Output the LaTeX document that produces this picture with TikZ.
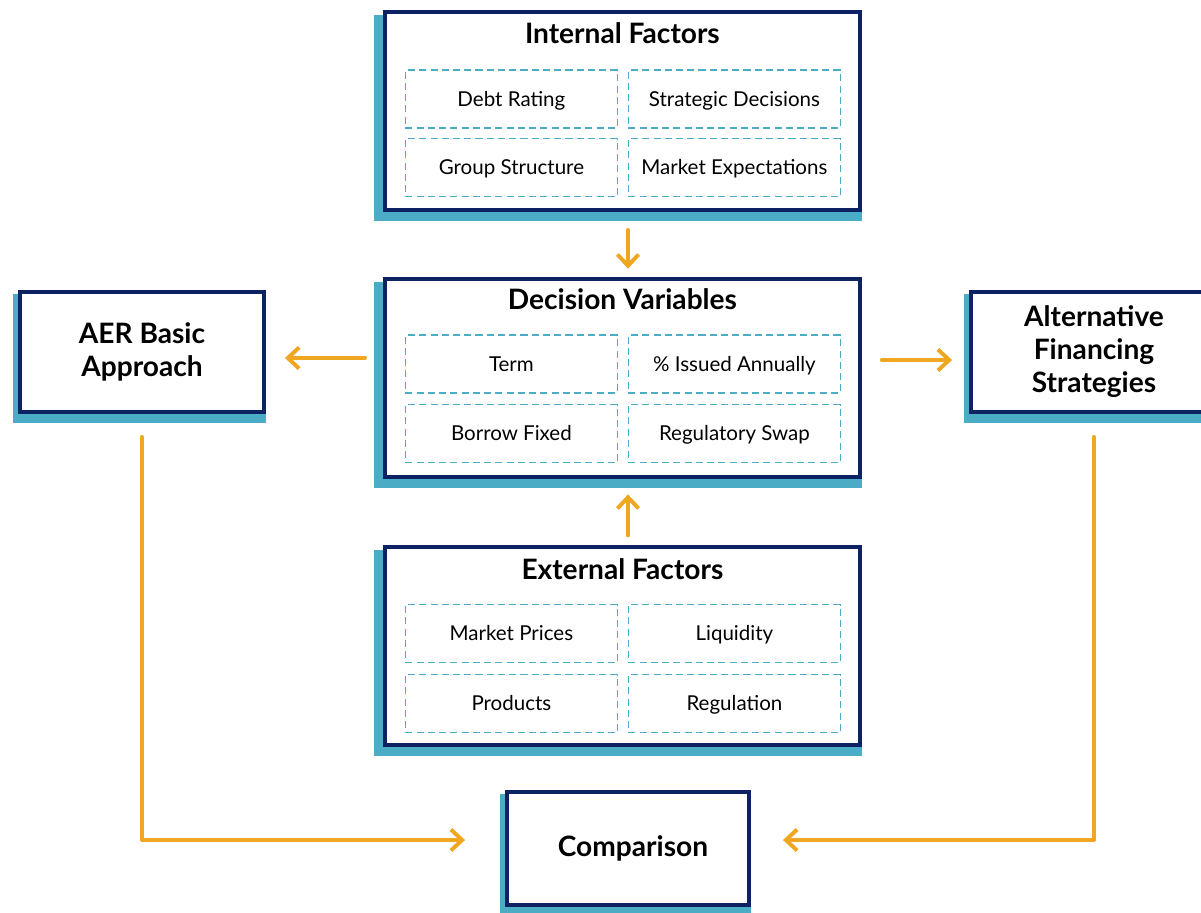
\documentclass[tikz,border=0pt]{standalone}
\usepackage{fontspec}
\setmainfont{Lato}
\usetikzlibrary{arrows.meta, positioning, calc, backgrounds}
\definecolor{NavyLine}{HTML}{0D2263}
\definecolor{ShadeBlue}{HTML}{4BACC6}
\definecolor{CellDash}{HTML}{4BACC6}
\definecolor{FlowOrange}{HTML}{EFA620}

\tikzset{
  panel/.style={rectangle, draw=NavyLine, line width=2.8pt, fill=white},
  paneltitle/.style={font=\fontsize{20}{23}\selectfont\bfseries, text height=14pt, text depth=0pt},
  sidebox/.style={panel, align=center, font=\fontsize{20}{23.5}\selectfont\bfseries},
  cell/.style={rectangle, draw=CellDash, line width=1pt, dash pattern=on 5pt off 3pt,
               minimum width=5.3cm, minimum height=1.45cm,
               font=\fontsize{14.6}{17}\selectfont, text height=10.5pt, text depth=0pt},
  flow/.style={draw=FlowOrange, line width=2.8pt, line join=round, line cap=round,
               -{Straight Barb[length=8pt,width=15pt]}}
}

\begin{document}
\begin{tikzpicture}
    \useasboundingbox (0,0) rectangle (30.025,-22.8);

    % Internal factors
    \node[panel, minimum width=11.875cm, minimum height=4.95cm] (intf) at (15.56,-2.775) {};
    \node[paneltitle] (intf-title) at (15.56,-0.85) {Internal Factors};
    \node[cell] (debt)  at (12.785,-2.475) {Debt Rating};
    \node[cell] (strat) at (18.36,-2.475)  {Strategic Decisions};
    \node[cell] (group) at (12.785,-4.19)  {Group Structure};
    \node[cell] (mexp)  at (18.36,-4.19)   {Market Expectations};

    % Decision variables
    \node[panel, minimum width=11.875cm, minimum height=4.95cm] (decv) at (15.56,-9.46) {};
    \node[paneltitle] (decv-title) at (15.56,-7.5) {Decision Variables};
    \node[cell] (term)   at (12.785,-9.1)  {Term};
    \node[cell] (issued) at (18.36,-9.1)   {\% Issued Annually};
    \node[cell] (fixed)  at (12.785,-10.84) {Borrow Fixed};
    \node[cell] (swap)   at (18.36,-10.84)  {Regulatory Swap};

    % External factors
    \node[panel, minimum width=11.875cm, minimum height=4.95cm] (extf) at (15.56,-16.16) {};
    \node[paneltitle] (extf-title) at (15.56,-14.25) {External Factors};
    \node[cell] (prices)   at (12.785,-15.84) {Market Prices};
    \node[cell] (liquid)   at (18.36,-15.84)  {Liquidity};
    \node[cell] (products) at (12.785,-17.59) {Products};
    \node[cell] (regul)    at (18.36,-17.59)  {Regulation};

    % Side boxes and comparison
    \node[sidebox, minimum width=6.1cm, minimum height=3cm] (aer) at (3.55,-8.8) {AER Basic\\Approach};
    \node[sidebox, minimum width=6.15cm, minimum height=3cm] (alt) at (27.35,-8.8) {Alternative\\Financing\\Strategies};
    \node[sidebox, minimum width=6.05cm, minimum height=2.825cm] (cmp) at (15.7,-21.21) {\hspace*{0.25cm}Comparison};

    % Shadows
    \begin{scope}[on background layer]
        \fill[ShadeBlue] ([xshift=-0.225cm,yshift=-0.125cm]intf.north west) rectangle ([yshift=-0.225cm]intf.south east);
        \fill[ShadeBlue] ([xshift=-0.225cm,yshift=-0.125cm]decv.north west) rectangle ([yshift=-0.225cm]decv.south east);
        \fill[ShadeBlue] ([xshift=-0.225cm,yshift=-0.125cm]extf.north west) rectangle ([yshift=-0.225cm]extf.south east);
        \fill[ShadeBlue] ([xshift=-0.13cm,yshift=-0.1cm]aer.north west) rectangle ([yshift=-0.225cm]aer.south east);
        \fill[ShadeBlue] ([xshift=-0.13cm,yshift=-0.1cm]alt.north west) rectangle ([yshift=-0.225cm]alt.south east);
        \fill[ShadeBlue] ([xshift=-0.13cm,yshift=-0.1cm]cmp.north west) rectangle ([yshift=-0.225cm]cmp.south east);
    \end{scope}

    % Flows
    \draw[flow, shorten <=0.45cm, shorten >=0.22cm] ([xshift=0.14cm]intf.south) -- ([xshift=0.14cm]decv.north);
    \draw[flow, shorten <=0.25cm, shorten >=0.375cm] ([xshift=0.14cm]extf.north) -- ([xshift=0.14cm]decv.south);
    \draw[flow, shorten <=0.45cm, shorten >=0.475cm] ([yshift=0.51cm]decv.west) -- ([yshift=0.51cm]decv.west -| aer.east);
    \draw[flow, shorten <=0.5cm, shorten >=0.425cm] ([yshift=0.46cm]decv.east) -- ([yshift=0.46cm]decv.east -| alt.west);
    \draw[flow, shorten <=0.575cm, shorten >=1cm] (aer.south) |- ([yshift=0.21cm]cmp.west);
    \draw[flow, shorten <=0.575cm, shorten >=0.8cm] (alt.south) |- ([yshift=0.21cm]cmp.east);
\end{tikzpicture}
\end{document}
